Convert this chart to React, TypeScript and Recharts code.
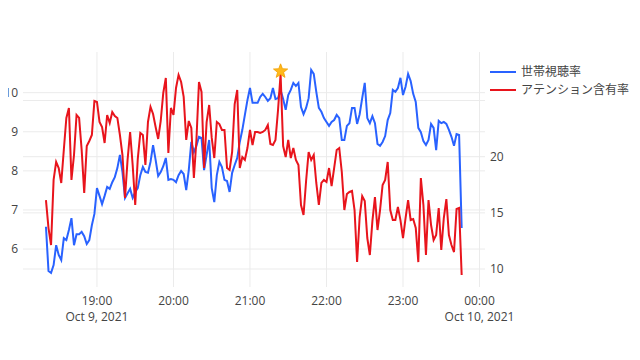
import React from 'react'
import {
  ComposedChart,
  Line,
  XAxis,
  YAxis,
  CartesianGrid,
  ReferenceDot,
} from 'recharts'

// minutes after 18:00 on Oct 9, 2021, one sample every 2 minutes from 18:20
const startMinute = 20
const stepMinutes = 2

// 世帯視聴率 (left axis, %)
const householdRating = [
  6.57, 5.44, 5.39, 5.59, 6.10, 5.85, 5.72, 6.28, 6.23, 6.49,
  6.79, 6.10, 6.38, 6.38, 6.44, 6.33, 6.13, 6.23, 6.61, 6.90,
  7.56, 7.36, 7.15, 7.36, 7.59, 7.54, 7.71, 7.84, 8.07, 8.41,
  7.97, 7.31, 7.43, 7.54, 7.31, 7.46, 7.56, 7.89, 8.10, 7.97,
  7.95, 8.23, 8.66, 8.28, 7.87, 7.97, 8.12, 8.33, 7.77, 7.79,
  7.77, 7.71, 7.89, 8.00, 7.92, 7.51, 8.02, 8.74, 8.48, 8.64,
  8.87, 8.84, 8.02, 8.41, 8.79, 7.56, 7.20, 7.89, 8.23, 8.10,
  7.77, 7.74, 7.46, 7.95, 8.15, 8.33, 8.74, 9.05, 9.43, 9.81,
  10.12, 9.74, 9.74, 9.74, 9.89, 9.97, 9.89, 9.79, 9.86, 10.12,
  9.84, 9.86, 10.07, 9.84, 9.56, 9.94, 10.07, 10.25, 10.17, 10.25,
  9.63, 9.45, 9.61, 9.86, 10.58, 10.48, 10.02, 9.61, 9.51, 9.35,
  9.25, 9.15, 9.25, 9.30, 9.43, 9.35, 8.79, 8.79, 9.15, 9.22,
  9.61, 9.61, 9.20, 9.45, 9.86, 10.25, 9.35, 9.22, 9.40, 9.22,
  8.69, 8.64, 8.74, 8.89, 9.30, 9.48, 10.07, 10.02, 10.12, 10.38,
  9.94, 10.15, 10.48, 10.30, 9.97, 9.76, 9.10, 8.99, 8.76, 8.66,
  8.79, 9.20, 9.10, 8.53, 9.28, 9.22, 9.25, 9.20, 9.05, 8.87,
  8.64, 8.94, 8.92, 6.54,
]

// アテンション含有率 (right axis, %)
const attentionRate = [
  16.14, 13.65, 12.14, 17.93, 19.53, 18.99, 17.66, 20.60, 23.45, 24.34,
  17.93, 20.15, 23.71, 23.45, 20.60, 16.77, 20.95, 21.40, 21.93, 24.96,
  24.87, 23.09, 22.64, 21.22, 23.71, 23.00, 23.98, 23.62, 23.45, 21.93,
  20.15, 16.32, 19.71, 22.20, 19.26, 15.70, 19.80, 22.11, 21.93, 19.26,
  23.09, 24.43, 23.80, 22.64, 21.58, 23.18, 25.67, 27.01, 20.33, 24.34,
  23.71, 26.12, 27.28, 26.65, 25.32, 21.49, 23.18, 22.56, 18.10, 21.49,
  26.65, 25.76, 18.99, 23.09, 24.60, 21.67, 19.88, 23.09, 22.91, 22.38,
  22.38, 18.99, 18.82, 20.42, 24.69, 25.94, 18.99, 19.97, 19.71, 20.77,
  22.38, 21.04, 22.20, 22.20, 22.11, 22.20, 22.38, 22.82, 21.13, 21.04,
  21.49, 24.16, 27.36, 20.95, 19.97, 21.49, 19.88, 20.77, 19.71, 19.26,
  15.70, 14.81, 17.84, 20.42, 19.71, 20.15, 17.66, 15.70, 17.66, 17.93,
  17.75, 18.99, 17.39, 18.99, 20.60, 20.77, 18.64, 15.25, 16.68, 16.86,
  16.95, 15.25, 10.62, 14.63, 16.50, 16.06, 12.76, 11.25, 14.27, 16.41,
  13.47, 15.25, 17.48, 17.93, 19.53, 15.25, 14.36, 14.36, 15.52, 14.36,
  12.76, 14.54, 16.14, 14.36, 14.45, 13.65, 10.62, 18.10, 15.70, 11.25,
  16.14, 13.92, 12.58, 13.03, 15.43, 11.69, 14.54, 16.23, 13.03, 12.14,
  11.51, 15.34, 15.43, 9.47,
]

// the highlighted peak (21:24)
const starMinute = 204
const starValue = 27.6

const hourTicks = [60, 120, 180, 240, 300, 360]
const hourLabels = ['19:00', '20:00', '21:00', '22:00', '23:00', '00:00']
const dateLabels: Record<number, string> = { 60: 'Oct 9, 2021', 360: 'Oct 10, 2021' }

const leftTicks = [6, 7, 8, 9, 10]
const rightTicks = [10, 15, 20, 25]

const seriesNames = ['世帯視聴率', 'アテンション含有率']

const BLUE = '#2962ff'
const RED = '#e8141c'
const GRID = '#ebebeb'
const FONT = '"Open Sans", "Noto Sans CJK JP", sans-serif'

const chartData = householdRating.map((v, i) => ({
  t: startMinute + i * stepMinutes,
  rating: v,
  attention: attentionRate[i],
}))

const TimeTick = (props: any) => {
  const { x, y, payload } = props
  const idx = hourTicks.indexOf(payload.value)
  const date = dateLabels[payload.value]
  return (
    <g>
      <text x={x} y={y + 16} textAnchor="middle" fill="#444" fontSize={12} fontFamily={FONT}>
        {hourLabels[idx]}
      </text>
      {date && (
        <text x={x} y={y + 32} textAnchor="middle" fill="#444" fontSize={12} fontFamily={FONT}>
          {date}
        </text>
      )}
    </g>
  )
}

const LeftTick = (props: any) => {
  const { x, y, payload } = props
  return (
    <text x={x} y={y + 4} textAnchor="end" fill="#444" fontSize={12} fontFamily={FONT}>
      {payload.value}
    </text>
  )
}

const RightTick = (props: any) => {
  const { x, y, payload } = props
  if (payload.value === 25) return <g />
  return (
    <text x={x} y={y + 4} textAnchor="start" fill="#444" fontSize={12} fontFamily={FONT}>
      {payload.value}
    </text>
  )
}

const Star = (props: any) => {
  const { cx, cy } = props
  const outer = 7.5
  const inner = 3.2
  const pts: string[] = []
  for (let k = 0; k < 10; k++) {
    const r = k % 2 === 0 ? outer : inner
    const a = -Math.PI / 2 + (k * Math.PI) / 5
    pts.push(`${cx + r * Math.cos(a)},${cy + r * Math.sin(a)}`)
  }
  return <polygon points={pts.join(' ')} fill="#ffb81c" stroke="#f0a000" strokeWidth={0.8} />
}

export default function App() {
  return (
    <div style={{ position: 'relative', width: 640, height: 360, margin: '-8px 0 0 -8px' }}>
      <ComposedChart
        width={640}
        height={360}
        data={chartData}
        margin={{ top: 52, right: 115, left: 0, bottom: 33 }}
      >
        <CartesianGrid
          yAxisId="left"
          stroke={GRID}
          strokeWidth={1}
          verticalValues={hourTicks}
          horizontalValues={leftTicks}
        />
        <CartesianGrid
          yAxisId="right"
          stroke={GRID}
          strokeWidth={1}
          vertical={false}
          horizontalValues={rightTicks}
        />
        <XAxis
          dataKey="t"
          type="number"
          domain={[2, 364.3]}
          ticks={hourTicks}
          allowDataOverflow
          axisLine={false}
          tickLine={false}
          tickSize={0}
          height={40}
          tick={<TimeTick />}
        />
        <YAxis
          yAxisId="left"
          domain={[5.03, 11.04]}
          ticks={leftTicks}
          allowDataOverflow
          axisLine={false}
          tickLine={false}
          tickSize={0}
          tickMargin={5}
          width={23}
          tick={<LeftTick />}
        />
        <YAxis
          yAxisId="right"
          orientation="right"
          domain={[8.4, 29.32]}
          ticks={rightTicks}
          allowDataOverflow
          axisLine={false}
          tickLine={false}
          tickSize={0}
          tickMargin={5}
          width={40}
          tick={<RightTick />}
        />
        <Line
          yAxisId="left"
          type="linear"
          dataKey="rating"
          name={seriesNames[0]}
          stroke={BLUE}
          strokeWidth={2}
          dot={false}
          isAnimationActive={false}
        />
        <Line
          yAxisId="right"
          type="linear"
          dataKey="attention"
          name={seriesNames[1]}
          stroke={RED}
          strokeWidth={2}
          dot={false}
          isAnimationActive={false}
        />
        <ReferenceDot
          yAxisId="right"
          x={starMinute}
          y={starValue}
          shape={<Star />}
        />
      </ComposedChart>
      <div
        style={{
          position: 'absolute',
          top: 63,
          left: 490,
          fontFamily: FONT,
          fontSize: 12,
          color: '#444',
          lineHeight: '18px',
        }}
      >
        {[BLUE, RED].map((color, i) => (
          <div key={color} style={{ display: 'flex', alignItems: 'center', whiteSpace: 'nowrap' }}>
            <svg width={26} height={10} style={{ marginRight: 5 }}>
              <line x1={0} y1={5} x2={26} y2={5} stroke={color} strokeWidth={2} />
            </svg>
            <span>{seriesNames[i]}</span>
          </div>
        ))}
      </div>
    </div>
  )
}
